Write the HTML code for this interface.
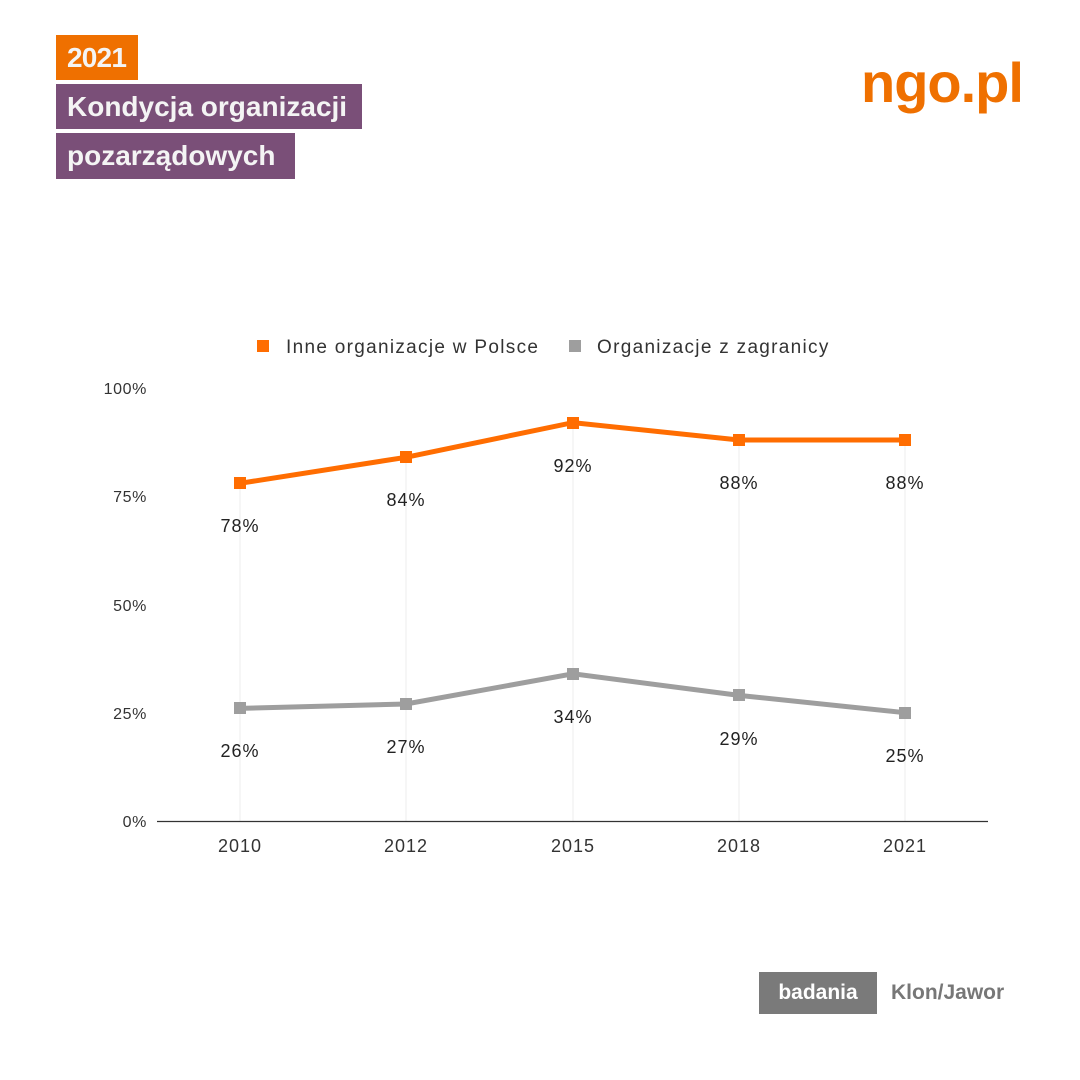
<!DOCTYPE html>
<html><head><meta charset="utf-8"><style>
body{margin:0;width:1080px;height:1080px;background:#fff;position:relative;overflow:hidden;font-family:"Liberation Sans",sans-serif}
.b{position:absolute;color:#f4f4f4;font-weight:bold;font-size:28px;line-height:45px;padding-left:11px;box-sizing:border-box;letter-spacing:0px}
</style></head><body>
<div class="b" style="left:56px;top:35px;width:82px;height:45px;background:#ef7000;letter-spacing:-0.8px">2021</div>
<div class="b" style="left:56px;top:84px;width:306px;height:45px;background:#7a4f78">Kondycja organizacji</div>
<div class="b" style="left:56px;top:133px;width:239px;height:46px;background:#7a4f78">pozarządowych</div>
<div style="position:absolute;left:861px;top:50px;font-size:56px;font-weight:bold;color:#ef7000;letter-spacing:-1px">ngo.pl</div>
<div style="position:absolute;left:759px;top:972px;width:118px;height:42px;background:#7a7a7a;color:#fff;font-weight:bold;font-size:21px;line-height:42px;text-align:center">badania</div>
<div style="position:absolute;left:891px;top:972px;font-size:21px;line-height:42px;color:#777;font-weight:bold">Klon/Jawor</div>
<svg width="1080" height="1080" style="position:absolute;left:0;top:0" font-family="Liberation Sans, sans-serif" font-size="18" fill="#222">
<rect x="257" y="340" width="12" height="12" fill="#ff6d01"/>
<text x="286" y="353" fill="#333" font-size="19" letter-spacing="1.3">Inne organizacje w Polsce</text>
<rect x="569" y="340" width="12" height="12" fill="#9e9e9e"/>
<text x="597" y="353" fill="#333" font-size="19" letter-spacing="1.3">Organizacje z zagranicy</text>
<g text-anchor="end" font-size="16" fill="#333" letter-spacing="0.6">
<text x="147" y="394">100%</text><text x="147" y="502">75%</text><text x="147" y="611">50%</text><text x="147" y="719">25%</text><text x="147" y="827">0%</text>
</g>
<g stroke="#eee" stroke-width="1">
<line x1="240" y1="483" x2="240" y2="821"/><line x1="406" y1="457" x2="406" y2="821"/><line x1="573" y1="423" x2="573" y2="821"/><line x1="739" y1="440" x2="739" y2="821"/><line x1="905" y1="440" x2="905" y2="821"/>
</g>
<line x1="157" y1="821.5" x2="988" y2="821.5" stroke="#333" stroke-width="1.2"/>
<g text-anchor="middle" font-size="18" fill="#333" letter-spacing="1">
<text x="240" y="852">2010</text><text x="406" y="852">2012</text><text x="573" y="852">2015</text><text x="739" y="852">2018</text><text x="905" y="852">2021</text>
</g>
<polyline points="240,483.3 406,457.3 573,422.6 739,440 905,440" fill="none" stroke="#ff6d01" stroke-width="5"/>
<g fill="#ff6d01"><rect x="234" y="477" width="12" height="12"/><rect x="400" y="451" width="12" height="12"/><rect x="567" y="417" width="12" height="12"/><rect x="733" y="434" width="12" height="12"/><rect x="899" y="434" width="12" height="12"/></g>
<polyline points="240,708.4 406,704 573,673.8 739,695.4 905,712.7" fill="none" stroke="#9e9e9e" stroke-width="5"/>
<g fill="#9e9e9e"><rect x="234" y="702" width="12" height="12"/><rect x="400" y="698" width="12" height="12"/><rect x="567" y="668" width="12" height="12"/><rect x="733" y="689" width="12" height="12"/><rect x="899" y="707" width="12" height="12"/></g>
<g text-anchor="middle" font-size="18" fill="#222" letter-spacing="1">
<text x="240" y="532">78%</text><text x="406" y="506">84%</text><text x="573" y="472">92%</text><text x="739" y="489">88%</text><text x="905" y="489">88%</text>
<text x="240" y="757">26%</text><text x="406" y="753">27%</text><text x="573" y="723">34%</text><text x="739" y="745">29%</text><text x="905" y="762">25%</text>
</g>
</svg>
</body></html>
